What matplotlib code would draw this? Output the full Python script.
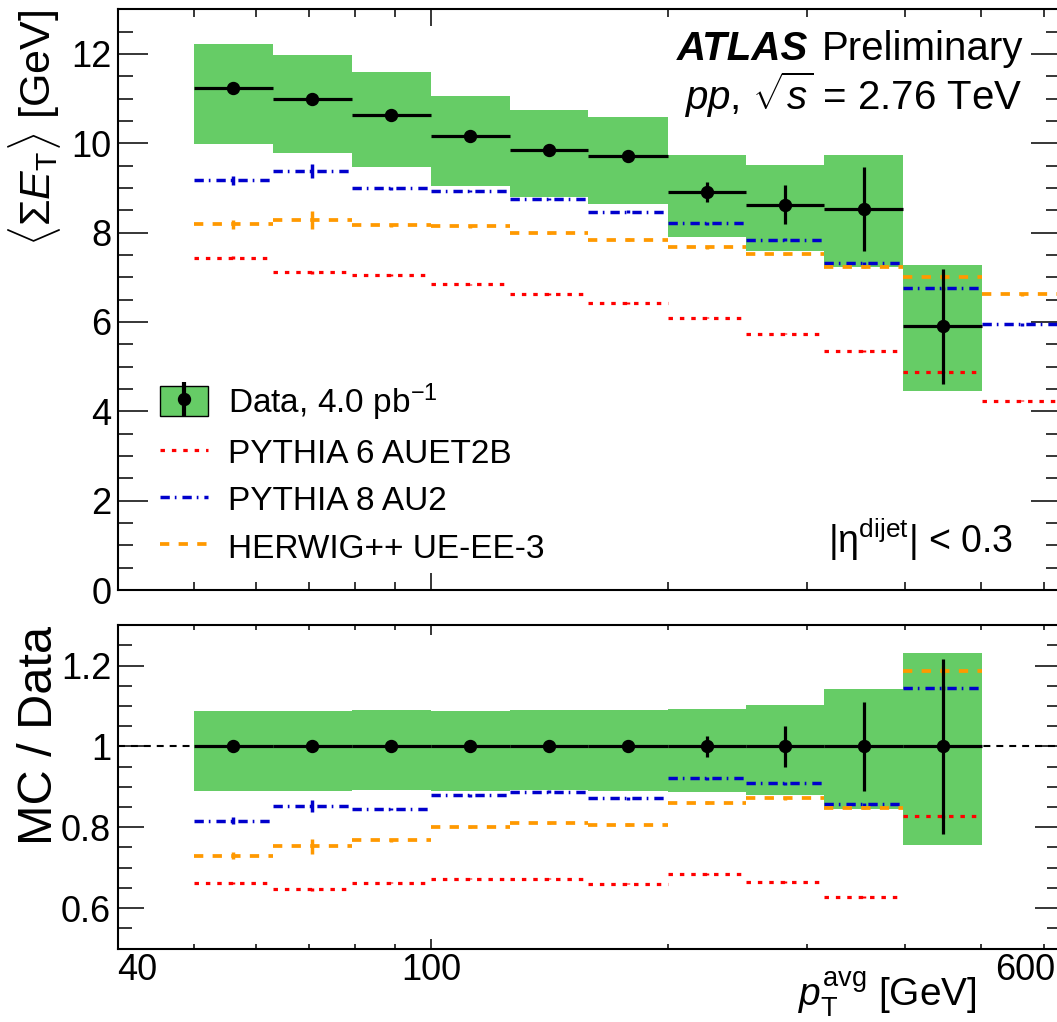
import numpy as np
import matplotlib
matplotlib.use("Agg")
import matplotlib.pyplot as plt
import matplotlib.transforms as mtransforms
from matplotlib.patches import Patch
from matplotlib.lines import Line2D
from matplotlib.legend_handler import HandlerTuple
from matplotlib.ticker import MultipleLocator

plt.rcParams["font.family"] = ["Liberation Sans", "DejaVu Sans"]
plt.rcParams["mathtext.fontset"] = "custom"
plt.rcParams["mathtext.rm"] = "Liberation Sans"
plt.rcParams["mathtext.it"] = "Liberation Sans:italic"
plt.rcParams["mathtext.bf"] = "Liberation Sans:bold"
plt.rcParams["lines.scale_dashes"] = False

# ---------------------------------------------------------------- data
bin_edges = [50.0, 63.0, 79.4, 100.0, 126.0, 158.5, 200.0, 251.0, 316.0, 398.0, 501.0, 631.0]

data_sumet = [11.23, 11.00, 10.63, 10.16, 9.85, 9.72, 8.91, 8.63, 8.53, 5.90]
data_stat = [0.03, 0.03, 0.04, 0.05, 0.06, 0.07, 0.23, 0.43, 0.94, 1.28]
data_syst_up = [12.22, 11.98, 11.60, 11.06, 10.75, 10.59, 9.74, 9.51, 9.74, 7.27]
data_syst_down = [9.98, 9.78, 9.48, 9.05, 8.79, 8.65, 7.91, 7.60, 7.22, 4.46]

pythia6 = [7.44, 7.11, 7.05, 6.84, 6.63, 6.42, 6.10, 5.74, 5.35, 4.88, 4.24]
pythia6_err = [0.03, 0.04, 0.02, 0.02, 0.02, 0.02, 0.02, 0.02, 0.02, 0.02, 0.02]
pythia8 = [9.17, 9.38, 8.99, 8.93, 8.75, 8.47, 8.21, 7.84, 7.31, 6.75, 5.95]
pythia8_err = [0.10, 0.16, 0.03, 0.03, 0.03, 0.03, 0.03, 0.03, 0.03, 0.03, 0.03]
herwig = [8.19, 8.28, 8.16, 8.14, 7.99, 7.84, 7.67, 7.52, 7.24, 7.00, 6.62]
herwig_err = [0.10, 0.20, 0.03, 0.03, 0.03, 0.03, 0.03, 0.03, 0.03, 0.07, 0.03]

labels = ["Data, 4.0 pb$^{\\mathregular{-1}}$", "PYTHIA 6 AUET2B", "PYTHIA 8 AU2", "HERWIG++ UE-EE-3"]
x_ticklabels = {40: "40", 100: "100", 600: "600"}

# ---------------------------------------------------------------- style
GREEN = "#66CC66"
models = [
    (pythia6, pythia6_err, "#FF0000", (0, (3.2, 5.0)), 2.3),
    (pythia8, pythia8_err, "#0000CC", (0, (6.7, 3.6, 1.2, 4.3)), 2.5),
    (herwig, herwig_err, "#FF9900", (0, (6.7, 6.7)), 2.7),
]

edges = np.array(bin_edges)
lo, hi = edges[:-1], edges[1:]
centers = np.sqrt(lo * hi)
nd = len(data_sumet)
data = np.array(data_sumet)
stat = np.array(data_stat)
up = np.array(data_syst_up)
dn = np.array(data_syst_down)

W, H, DPI = 1057, 1022, 100
fig = plt.figure(figsize=(W / DPI, H / DPI), dpi=DPI)


def fx(px):
    return px / W


def fy(py):
    return 1 - py / H


x_left, x_right = 117.5, 1061.0
ax1 = fig.add_axes([fx(x_left), fy(590.0), fx(x_right - x_left), (590.0 - 9.3) / H])
ax2 = fig.add_axes([fx(x_left), fy(948.5), fx(x_right - x_left), (948.5 - 625.3) / H])

XMIN, XMAX = 40, 631

# ---------------------------------------------------------------- upper panel
ax1.bar(lo[:nd], up - dn, width=hi[:nd] - lo[:nd], bottom=dn, align="edge",
        color=GREEN, linewidth=0, zorder=1)
for vals, errs, col, ls, lw in models:
    v = np.array(vals)
    ax1.hlines(v, lo, hi, colors=col, linestyles=[ls], linewidth=lw, zorder=3)
    ax1.errorbar(centers, v, yerr=errs, fmt="none", ecolor=col, elinewidth=2.5,
                 capsize=0, zorder=3)
ax1.errorbar(centers[:nd], data, xerr=[centers[:nd] - lo[:nd], hi[:nd] - centers[:nd]],
             yerr=stat, fmt="o", color="black", ms=8.6, elinewidth=2.3, capsize=0, zorder=5)

ax1.set_xscale("log")
ax1.set_xlim(XMIN, XMAX)
ax1.set_ylim(0, 13)
ax1.yaxis.set_major_locator(MultipleLocator(2))
ax1.yaxis.set_minor_locator(MultipleLocator(0.5))

# ---------------------------------------------------------------- ratio panel
ax2.axhline(1.0, color="black", linewidth=1.5, linestyle=(0, (5, 4.3)), zorder=0.5)
ax2.bar(lo[:nd], (up - dn) / data, width=hi[:nd] - lo[:nd], bottom=dn / data, align="edge",
        color=GREEN, linewidth=0, zorder=1)
for vals, errs, col, ls, lw in models:
    r = np.array(vals[:nd]) / data
    re = np.array(errs[:nd]) / data
    ax2.hlines(r, lo[:nd], hi[:nd], colors=col, linestyles=[ls], linewidth=lw, zorder=3)
    ax2.errorbar(centers[:nd], r, yerr=re, fmt="none", ecolor=col, elinewidth=2.5,
                 capsize=0, zorder=3)
ax2.errorbar(centers[:nd], np.ones(nd), xerr=[centers[:nd] - lo[:nd], hi[:nd] - centers[:nd]],
             yerr=stat / data, fmt="o", color="black", ms=8.6, elinewidth=2.3, capsize=0, zorder=5)

ax2.set_xscale("log")
ax2.set_xlim(XMIN, XMAX)
ax2.set_ylim(0.5, 1.3)
ax2.yaxis.set_major_locator(MultipleLocator(0.2))
ax2.yaxis.set_minor_locator(MultipleLocator(0.05))
ax2.yaxis.set_major_formatter(matplotlib.ticker.FuncFormatter(lambda v, p: f"{v:g}"))

# ---------------------------------------------------------------- axes cosmetics
minor_x = [40, 50, 60, 70, 80, 90, 200, 300, 400, 500, 600]
for ax in (ax1, ax2):
    ax.set_xticks([100])
    ax.set_xticks(minor_x, minor=True)
    for s in ax.spines.values():
        s.set_linewidth(1.5)
    ax.tick_params(which="both", direction="in", top=True, right=True, width=1.1,
                   labelsize=26)

ax1.tick_params(axis="y", which="major", length=21.6, pad=4.5)
ax1.tick_params(axis="y", which="minor", length=10.8)
ax1.tick_params(axis="x", which="major", length=12.2, labelbottom=False)
ax1.tick_params(axis="x", which="minor", length=5.8, labelbottom=False)

ax2.tick_params(axis="y", which="major", length=18.7, pad=4.5)
ax2.tick_params(axis="y", which="minor", length=10.0)
ax2.tick_params(axis="x", which="major", length=7.2, pad=3.5)
ax2.tick_params(axis="x", which="minor", length=3.6, pad=3.5)
ax2.set_xticklabels([x_ticklabels[100]])
ax2.set_xticklabels([x_ticklabels.get(v, "") for v in minor_x], minor=True)
mlabels = ax2.get_xticklabels(minor=True)
mlabels[0].set_ha("left")
mlabels[-1].set_ha("right")
mlabels[-1].set_transform(mlabels[-1].get_transform()
                          + mtransforms.ScaledTranslation(11 / DPI, 0, fig.dpi_scale_trans))

# ---------------------------------------------------------------- titles
fig.text(fx(35), fy(10), r"$\langle\Sigma E_{\rm T}\rangle$ [GeV]", rotation=90,
         ha="center", va="top", fontsize=31)
fig.text(fx(40), fy(626), "MC / Data", rotation=90, ha="center", va="top", fontsize=35)
fig.text(fx(977), fy(1006), r"$p_{\rm T}^{\rm avg}$ [GeV]", ha="right", va="baseline",
         fontsize=28)

fig.text(fx(808), fy(60), "ATLAS", fontsize=29, fontweight="bold", fontstyle="italic",
         ha="right", va="baseline")
fig.text(fx(1023), fy(60), "Preliminary", fontsize=29, ha="right", va="baseline")
fig.text(fx(1022), fy(110), r"$pp$, $\sqrt{s}$ = 2.76 TeV", fontsize=29, ha="right",
         va="baseline")
fig.text(fx(1013), fy(553), "|η$^{\\mathregular{dijet}}$| < 0.3", fontsize=27, ha="right",
         va="baseline")

# ---------------------------------------------------------------- legend
h_data = (Patch(facecolor=GREEN, edgecolor="black", linewidth=1.0),
          Line2D([], [], marker="|", ms=24, mew=3, color="black", linestyle="none"),
          Line2D([], [], marker="o", ms=8.6, color="black", linestyle="none"))
h_models = [Line2D([], [], color=c, linestyle=ls, linewidth=lw) for _, _, c, ls, lw in models]
ax1.legend([h_data] + h_models, labels, loc="upper left",
           bbox_to_anchor=((160 - x_left) / (x_right - x_left), (590 - 381) / 580.7),
           frameon=False, fontsize=24, handlelength=1.44, handleheight=1.0,
           handletextpad=0.6, labelspacing=0.42, borderpad=0, borderaxespad=0,
           handler_map={tuple: HandlerTuple(ndivide=1)})

fig.savefig("out.png", dpi=DPI)
